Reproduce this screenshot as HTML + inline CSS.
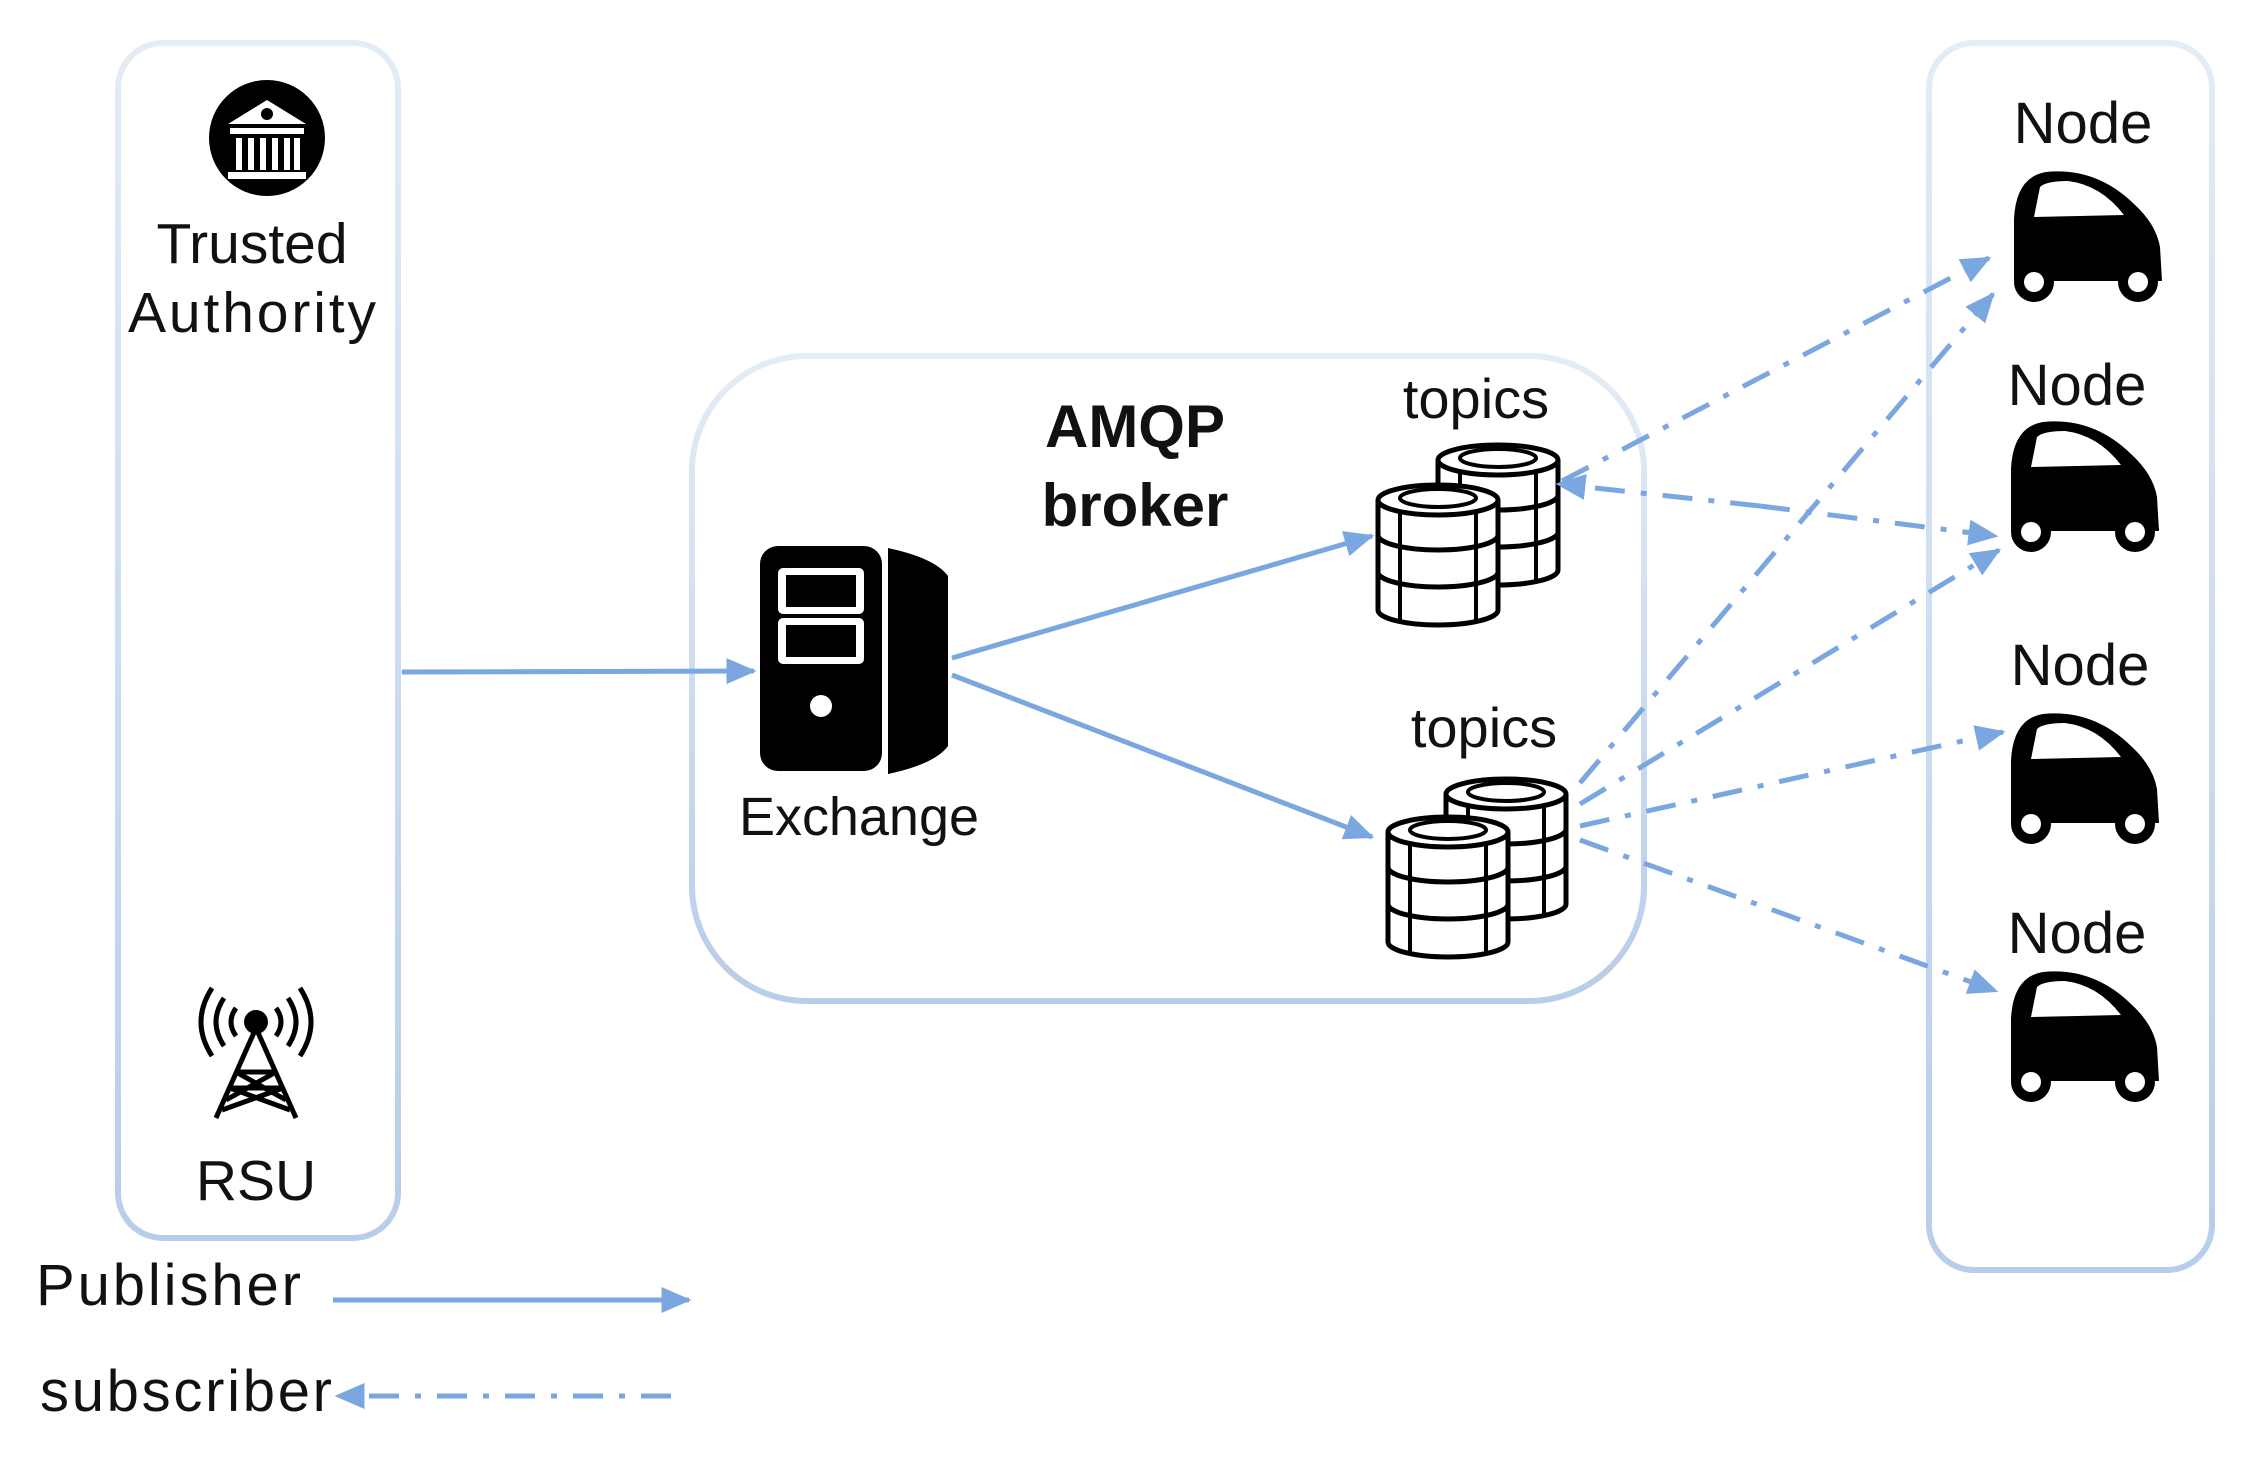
<!DOCTYPE html>
<html><head><meta charset="utf-8"><style>
html,body{margin:0;padding:0;background:#fff;}
svg{display:block;}
text{font-family:"Liberation Sans","DejaVu Sans",sans-serif;fill:#111;}
</style></head><body>
<svg width="2252" height="1457" viewBox="0 0 2252 1457" xmlns="http://www.w3.org/2000/svg">
<defs>
<linearGradient id="bx" x1="0" y1="0" x2="0" y2="1">
<stop offset="0" stop-color="#e3ecf7"/><stop offset="1" stop-color="#b8cde9"/>
</linearGradient>
<marker id="ar" markerWidth="6" markerHeight="6" refX="5.5" refY="3" orient="auto" markerUnits="strokeWidth">
<path d="M0,0.4 L6,3 L0,5.6 Z" fill="#7ba7e0"/>
</marker>
<g id="cyl">
<path d="M-60,0 L-60,110 A60,15 0 0 0 60,110 L60,0" fill="#fff" stroke="#000" stroke-width="5"/>
<ellipse cx="0" cy="0" rx="60" ry="15" fill="#fff" stroke="#000" stroke-width="5"/>
<ellipse cx="0" cy="-2" rx="38" ry="9" fill="#fff" stroke="#000" stroke-width="4"/>
<path d="M-60,35 A60,15 0 0 0 60,35 M-60,72 A60,15 0 0 0 60,72" fill="none" stroke="#000" stroke-width="5"/>
<path d="M-38,10 L-38,120 M38,10 L38,120" fill="none" stroke="#000" stroke-width="4"/>
</g>
<g id="car">
<path d="M8,100 L8,50 Q10,8 40,3 Q90,-2 128,35 Q150,55 154,78 L156,112 L8,112 Z" fill="#000"/>
<path d="M28,48 L34,18 Q40,12 62,12 Q95,16 118,46 Z" fill="#fff"/>
<circle cx="28" cy="113" r="20" fill="#000"/><circle cx="28" cy="113" r="10" fill="#fff"/>
<circle cx="132" cy="113" r="20" fill="#000"/><circle cx="132" cy="113" r="10" fill="#fff"/>
</g>
</defs>

<rect x="118" y="43" width="280" height="1195" rx="45" fill="none" stroke="url(#bx)" stroke-width="6"/>
<rect x="692" y="356" width="952" height="645" rx="115" fill="none" stroke="url(#bx)" stroke-width="6"/>
<rect x="1929" y="43" width="283" height="1227" rx="45" fill="none" stroke="url(#bx)" stroke-width="6"/>

<circle cx="267" cy="138" r="58" fill="#000"/>
<path d="M228,124 L267,100 L306,124 Z" fill="#fff"/>
<circle cx="267" cy="114" r="6" fill="#000"/>
<rect x="230" y="128" width="74" height="6" fill="#fff"/>
<g fill="#fff"><rect x="236" y="138" width="6" height="32"/><rect x="248" y="138" width="6" height="32"/><rect x="260" y="138" width="6" height="32"/><rect x="272" y="138" width="6" height="32"/><rect x="284" y="138" width="6" height="32"/><rect x="294" y="138" width="6" height="32"/></g>
<rect x="228" y="172" width="78" height="7" fill="#fff"/>
<text x="252" y="263" font-size="57" text-anchor="middle">Trusted</text>
<text x="252" y="332" font-size="57" text-anchor="middle" textLength="248">Authority</text>

<g stroke="#000" stroke-width="5" fill="none">
<path d="M216,1118 L256,1028 L296,1118 M230,1088 L283,1088 M236,1072 L276,1072 M226,1100 L276,1072 M286,1100 L236,1072 M222,1110 L283,1088 M290,1110 L230,1088"/>
<path d="M236,1008 Q226,1022 236,1036 M276,1008 Q286,1022 276,1036 M224,998 Q208,1022 224,1046 M288,998 Q304,1022 288,1046 M212,988 Q190,1022 212,1056 M300,988 Q322,1022 300,1056"/>
</g>
<circle cx="256" cy="1022" r="12" fill="#000"/>
<text x="256" y="1200" font-size="57" text-anchor="middle">RSU</text>

<text x="36" y="1305" font-size="58" textLength="265">Publisher</text>
<line x1="333" y1="1300" x2="689" y2="1300" stroke="#7ba7e0" stroke-width="5" marker-end="url(#ar)"/>
<text x="40" y="1411" font-size="58" textLength="292">subscriber</text>
<line x1="671" y1="1396" x2="337" y2="1396" stroke="#7ba7e0" stroke-width="5" stroke-dasharray="30,16,6,16" marker-end="url(#ar)"/>

<rect x="760" y="546" width="122" height="225" rx="18" fill="#000"/>
<rect x="778" y="568" width="86" height="46" rx="5" fill="#fff"/>
<rect x="786" y="575" width="70" height="32" fill="#000"/>
<rect x="778" y="618" width="86" height="46" rx="5" fill="#fff"/>
<rect x="786" y="625" width="70" height="32" fill="#000"/>
<circle cx="821" cy="706" r="11" fill="#fff"/>
<path d="M888,548 Q935,558 948,576 L948,746 Q935,764 888,774 Z" fill="#000"/>
<text x="859" y="835" font-size="54" text-anchor="middle" textLength="240">Exchange</text>

<text x="1135" y="447" font-size="60" font-weight="bold" text-anchor="middle">AMQP</text>
<text x="1135" y="526" font-size="60" font-weight="bold" text-anchor="middle">broker</text>

<line x1="402" y1="672" x2="754" y2="671" stroke="#7ba7e0" stroke-width="5" marker-end="url(#ar)"/>
<line x1="952" y1="658" x2="1372" y2="536" stroke="#7ba7e0" stroke-width="5" marker-end="url(#ar)"/>
<line x1="952" y1="675" x2="1372" y2="837" stroke="#7ba7e0" stroke-width="5" marker-end="url(#ar)"/>

<text x="1476" y="418" font-size="56" text-anchor="middle">topics</text>
<use href="#cyl" x="1498" y="460"/>
<use href="#cyl" x="1438" y="500"/>
<text x="1484" y="747" font-size="56" text-anchor="middle">topics</text>
<use href="#cyl" x="1506" y="794"/>
<use href="#cyl" x="1448" y="832"/>

<g stroke="#7ba7e0" stroke-width="5" stroke-dasharray="30,16,6,16" fill="none" marker-end="url(#ar)">
<line x1="1562" y1="481" x2="1989" y2="258"/>
<line x1="1580" y1="783" x2="1993" y2="294"/>
<line x1="1760" y1="506" x2="1558" y2="484"/>
<line x1="1760" y1="506" x2="1996" y2="536"/>
<line x1="1580" y1="804" x2="1999" y2="550"/>
<line x1="1580" y1="826" x2="2003" y2="732"/>
<line x1="1580" y1="840" x2="1996" y2="991"/>
</g>

<text x="2083" y="143" font-size="58" text-anchor="middle">Node</text>
<use href="#car" x="2006" y="169"/>
<text x="2077" y="405" font-size="58" text-anchor="middle">Node</text>
<use href="#car" x="2003" y="419"/>
<text x="2080" y="685" font-size="58" text-anchor="middle">Node</text>
<use href="#car" x="2003" y="711"/>
<text x="2077" y="953" font-size="58" text-anchor="middle">Node</text>
<use href="#car" x="2003" y="969"/>
</svg>
</body></html>
